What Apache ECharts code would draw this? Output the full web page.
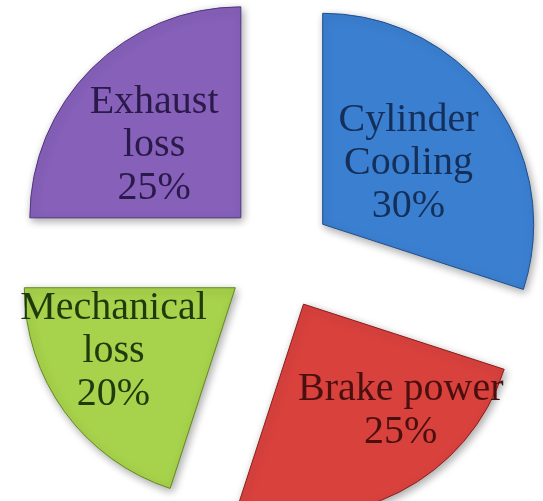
<!DOCTYPE html>
<html>
<head>
<meta charset="utf-8">
<script src="https://cdn.jsdelivr.net/npm/echarts@6/dist/echarts.min.js"></script>
<style>
  html, body { margin: 0; padding: 0; background: #fff; }
  #main { width: 543px; height: 501px; }
</style>
</head>
<body>
<div id="main"></div>
<script>
// data
const categories = ["Cylinder\nCooling", "Brake power", "Mechanical\nloss", "Exhaust\nloss"];
const values = [30, 25, 20, 25];
const colors = ["#3b7fd1", "#d9413d", "#a7d24b", "#8660b9"];
const borders = ["#1f4f8f", "#8a1f1c", "#5f8a1e", "#4f3580"];
const textColors = ["#14305a", "#4a0f0f", "#1f3a0c", "#2a1a4a"];
// shift of each label from its default spot
const labelShift = [[-2, 3], [48, 10], [-34, 0], [-10, 4]];

const myChart = echarts.init(document.getElementById("main"));

const data = categories.map((name, i) => ({
  name: name,
  value: values[i],
  selected: true,
  itemStyle: {
    color: colors[i],
    borderColor: borders[i],
    borderWidth: 1
  },
  label: {
    color: textColors[i]
  }
}));

myChart.setOption({
  animation: false,
  series: [
    {
      type: "pie",
      center: [279, 256],
      radius: 211,
      startAngle: 90,
      clockwise: true,
      selectedMode: "multiple",
      selectedOffset: 54,
      itemStyle: {
        shadowBlur: 8,
        shadowOffsetX: 2,
        shadowOffsetY: 3,
        shadowColor: "rgba(0,0,0,0.35)"
      },
      label: {
        show: true,
        position: "inside",
        formatter: (p) => p.name + "\n" + p.value + "%",
        fontFamily: "Liberation Serif, Times New Roman, serif",
        fontSize: 40,
        lineHeight: 43
      },
      labelLayout: (params) => ({
        dx: labelShift[params.dataIndex][0],
        dy: labelShift[params.dataIndex][1]
      }),
      labelLine: { show: false },
      emphasis: { disabled: true },
      data: data
    }
  ]
});
</script>
</body>
</html>
